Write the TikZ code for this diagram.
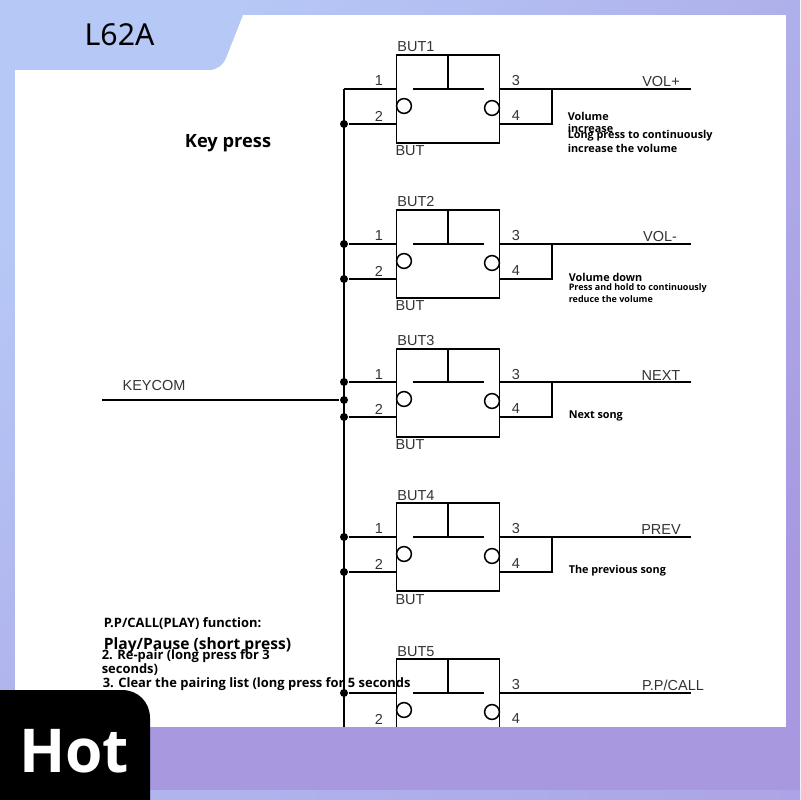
\documentclass[tikz,border=0pt]{standalone}
\usepackage{fontspec}
\setmainfont{Liberation Sans}
\newfontfamily\boldfont{Open Sans}
\newfontfamily\tagfont{Noto Sans}
\usetikzlibrary{arrows,shapes}
\definecolor{frameblue}{HTML}{B6C8F6}
\definecolor{framepurple}{HTML}{A898E0}

\begin{document}
\begin{tikzpicture}[x=0.025cm,y=-0.025cm,line width=1.1pt,line cap=butt]
\tikzstyle{every node}=[font=\fontsize{10.3}{12}\selectfont,text=black!80,inner sep=0pt]
\tikzstyle{btn}=[draw,minimum width=2.575cm,minimum height=2.2cm]
\tikzstyle{ring}=[draw,circle,minimum size=0.37cm,fill=white]
\tikzstyle{jn}=[circle,fill=black,minimum size=0.2cm]
\tikzstyle{note}=[font=\boldfont\bfseries\fontsize{7.7}{9}\selectfont,text=black,anchor=west]
\tikzstyle{fn}=[font=\boldfont\bfseries\fontsize{9.2}{11}\selectfont,text=black,anchor=west]

\useasboundingbox (0,0) rectangle (800,800);
\shade[left color=frameblue,right color=framepurple,shading angle=45,draw=none] (0,0) rectangle (800,800);
\fill[white] (15,15) rectangle (786,727);
\fill[frameblue] (0,0) -- (243,0) -- (243,15) -- (226,58) .. controls (223,65) and (217,70) .. (209,70) -- (0,70) -- cycle;
\node at (119.5,35) [font=\tagfont\fontsize{21.5}{24}\selectfont,text=black] (title) {L62A};
\node at (228,143) [font=\boldfont\bfseries\fontsize{13}{15}\selectfont,text=black] (key) {Key press};

%bus and input
\coordinate (top) at (344,89);
\coordinate (bot) at (344,727);
\coordinate (kin) at (102,400);
\node at (154,386) (keycom) {KEYCOM};
\node at (344,400) [jn] (kj) {};
\path [draw] (top) -- (bot);
\path [draw,line width=0.9pt] (kin) -- (kj);
\path [draw,line width=1.8pt] (222,400) -- (261,400);

%BUT1
\node at (448,99) [btn] (b1) {};
\node at (416,47) (n1) {BUT1};
\node at (410,151) (t1) {BUT};
\node at (379,81) (p11) {1};
\node at (379,116) (p12) {2};
\node at (516,81) (p13) {3};
\node at (516,116) (p14) {4};
\node at (404,106) [ring] (c11) {};
\node at (492,108) [ring] (c12) {};
\node at (344,124) [jn] (d12) {};
\coordinate (a1) at (344,89);
\coordinate (l1) at (413,89);
\coordinate (r1) at (484,89);
\coordinate (m1) at (552,89);
\coordinate (o1) at (691,89);
\node at (661,82) (v1) {VOL+};
\path [draw] (a1) -- (a1 -| b1.west);
\path [draw] (d12) -- (d12 -| b1.west);
\path [draw] (l1) -- (r1);
\path [draw] (b1.north) -- (b1.north |- a1);
\path [draw] (a1 -| b1.east) -- (o1);
\path [draw] (d12 -| b1.east) -- (d12 -| m1) -- (m1);
\node at (567,116) [note] (x11) {Volume};
\node at (567,128) [note] (x12) {increase};
\node at (567,136) [note] (x13) {Long press to continuously};
\node at (567,148) [note] (x14) {increase the volume};

%BUT2
\node at (448,254) [btn] (b2) {};
\node at (416,202) (n2) {BUT2};
\node at (410,306) (t2) {BUT};
\node at (379,236) (p21) {1};
\node at (379,271) (p22) {2};
\node at (516,236) (p23) {3};
\node at (516,271) (p24) {4};
\node at (404,261) [ring] (c21) {};
\node at (492,263) [ring] (c22) {};
\node at (344,244) [jn] (a2) {};
\node at (344,279) [jn] (d22) {};
\coordinate (l2) at (413,244);
\coordinate (r2) at (484,244);
\coordinate (m2) at (552,244);
\coordinate (o2) at (691,244);
\node at (660,237) (v2) {VOL-};
\path [draw] (a2) -- (a2 -| b2.west);
\path [draw] (d22) -- (d22 -| b2.west);
\path [draw] (l2) -- (r2);
\path [draw] (b2.north) -- (b2.north |- a2);
\path [draw] (a2 -| b2.east) -- (o2);
\path [draw] (d22 -| b2.east) -- (d22 -| m2) -- (m2);
\node at (568,277) [note] (x21) {Volume down};
\node at (568,288) [note,font=\boldfont\bfseries\fontsize{6.4}{8}\selectfont] (x22) {Press and hold to continuously};
\node at (568,299) [note,font=\boldfont\bfseries\fontsize{6.4}{8}\selectfont] (x23) {reduce the volume};

%BUT3
\node at (448,393) [btn] (b3) {};
\node at (416,341) (n3) {BUT3};
\node at (410,445) (t3) {BUT};
\node at (379,375) (p31) {1};
\node at (379,409) (p32) {2};
\node at (516,375) (p33) {3};
\node at (516,409) (p34) {4};
\node at (404,399) [ring] (c31) {};
\node at (492,401) [ring] (c32) {};
\node at (344,382) [jn] (a3) {};
\node at (344,417) [jn] (d32) {};
\coordinate (l3) at (413,382);
\coordinate (r3) at (484,382);
\coordinate (m3) at (552,382);
\coordinate (o3) at (691,382);
\node at (661,376) (v3) {NEXT};
\path [draw] (a3) -- (a3 -| b3.west);
\path [draw] (d32) -- (d32 -| b3.west);
\path [draw] (l3) -- (r3);
\path [draw] (b3.north) -- (b3.north |- a3);
\path [draw] (a3 -| b3.east) -- (o3);
\path [draw] (d32 -| b3.east) -- (d32 -| m3) -- (m3);
\node at (568,416) [note] (x31) {Next song};

%BUT4
\node at (448,547) [btn] (b4) {};
\node at (416,496) (n4) {BUT4};
\node at (410,600) (t4) {BUT};
\node at (379,529) (p41) {1};
\node at (379,564) (p42) {2};
\node at (516,529) (p43) {3};
\node at (516,564) (p44) {4};
\node at (404,554) [ring] (c41) {};
\node at (492,556) [ring] (c42) {};
\node at (344,537) [jn] (a4) {};
\node at (344,572) [jn] (d42) {};
\coordinate (l4) at (413,537);
\coordinate (r4) at (484,537);
\coordinate (m4) at (552,537);
\coordinate (o4) at (691,537);
\node at (661,530) (v4) {PREV};
\path [draw] (a4) -- (a4 -| b4.west);
\path [draw] (d42) -- (d42 -| b4.west);
\path [draw] (l4) -- (r4);
\path [draw] (b4.north) -- (b4.north |- a4);
\path [draw] (a4 -| b4.east) -- (o4);
\path [draw] (d42 -| b4.east) -- (d42 -| m4) -- (m4);
\node at (568,571) [note] (x41) {The previous song};

%BUT5 runs under the bottom band
\node at (448,703) [btn] (b5) {};
\node at (416,652) (n5) {BUT5};
\node at (379,719) (p52) {2};
\node at (516,685) (p53) {3};
\node at (516,719) (p54) {4};
\node at (404,710) [ring] (c51) {};
\node at (492,712) [ring] (c52) {};
\node at (344,693) [jn] (a5) {};
\coordinate (l5) at (413,693);
\coordinate (r5) at (484,693);
\coordinate (o5) at (691,693);
\node at (673,685) (v5) {P.P/CALL};
\path [draw] (a5) -- (a5 -| b5.west);
\path [draw] (l5) -- (r5);
\path [draw] (b5.north) -- (b5.north |- a5);
\path [draw] (a5 -| b5.east) -- (o5);

\fill[framepurple] (150,727) rectangle (800,790);
\shade[left color=frameblue!60!framepurple,right color=framepurple!75!frameblue,draw=none] (150,790) rectangle (800,800);

\node at (103,624) [fn] (f0) {P.P/CALL(PLAY) function:};
\node at (103,645) [fn,font=\boldfont\bfseries\fontsize{11.1}{13}\selectfont] (f1) {Play/Pause (short press)};
\node at (101,656) [fn] (f2) {2. Re-pair (long press for 3};
\node at (101,670) [fn] (f3) {seconds)};
\node at (102,684) [fn] (f4) {3. Clear the pairing list (long press for 5 seconds};

\fill[black] (0,690) -- (122,690) .. controls (138,690) and (150,702) .. (150,718) -- (150,800) -- (0,800) -- cycle;
\node at (74,751) [font=\boldfont\bfseries\fontsize{43}{46}\selectfont,text=white] (hot) {Hot};
\end{tikzpicture}
\end{document}
